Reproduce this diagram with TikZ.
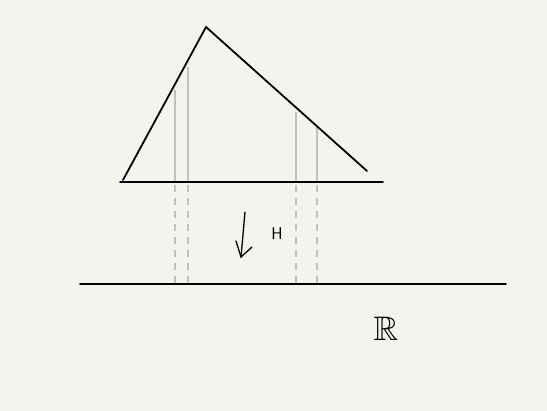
\documentclass[tikz,border=0pt]{standalone}
\usepackage{amssymb}
\usetikzlibrary{arrows.meta}
\definecolor{bg}{HTML}{F4F3EF}
\definecolor{proj}{HTML}{C2C0BB}
\begin{document}
\begin{tikzpicture}[x=1pt,y=-1pt,
  ink/.style={line width=1.8pt,black,line cap=round,line join=round},
  ray/.style={line width=1.6pt,proj},
  dray/.style={line width=1.6pt,proj,dash pattern=on 7pt off 6pt}]
\fill[bg] (0,0) rectangle (547,411);
\useasboundingbox (0,0) rectangle (547,411);
% triangle
\coordinate (L) at (123,180);
\coordinate (A) at (206,27);
\coordinate (Rt) at (367,171);
\coordinate (b1) at (120,182);
\coordinate (b2) at (383,182);
\coordinate (g1) at (80,284);
\coordinate (g2) at (506,284);
% projection rays
\coordinate (t1) at (175,90);
\coordinate (t2) at (188,67);
\coordinate (t3) at (296,112);
\coordinate (t4) at (317,127);
\coordinate (m1) at (175,182);
\coordinate (m2) at (188,182);
\coordinate (m3) at (296,182);
\coordinate (m4) at (317,182);
\coordinate (e1) at (175,284);
\coordinate (e2) at (188,284);
\coordinate (e3) at (296,284);
\coordinate (e4) at (317,284);
\draw[ray] (t1) -- (m1);
\draw[ray] (t2) -- (m2);
\draw[ray] (t3) -- (m3);
\draw[ray] (t4) -- (m4);
\draw[dray] ([yshift=10pt]m1) -- (e1);
\draw[dray] ([yshift=10pt]m2) -- (e2);
\draw[dray] ([yshift=10pt]m3) -- (e3);
\draw[dray] ([yshift=10pt]m4) -- (e4);
\draw[ink] (L) -- (A) -- (Rt);
\draw[ink] (b1) -- (b2);
\draw[ink] (g1) -- (g2);
% arrow
\coordinate (a1) at (245,212);
\coordinate (a2) at (241,257);
\draw[line width=1.3pt,line cap=round] (a1) -- (a2);
\draw[line width=1.3pt,line cap=round] (236,241) -- (a2) -- (252,247);
\node[font=\sffamily\fontsize{17}{17}\selectfont] (H) at (277,234) {H};
\node[font=\fontsize{34}{34}\selectfont] (R) at (386,329) {$\mathbb{R}$};
\end{tikzpicture}
\end{document}
